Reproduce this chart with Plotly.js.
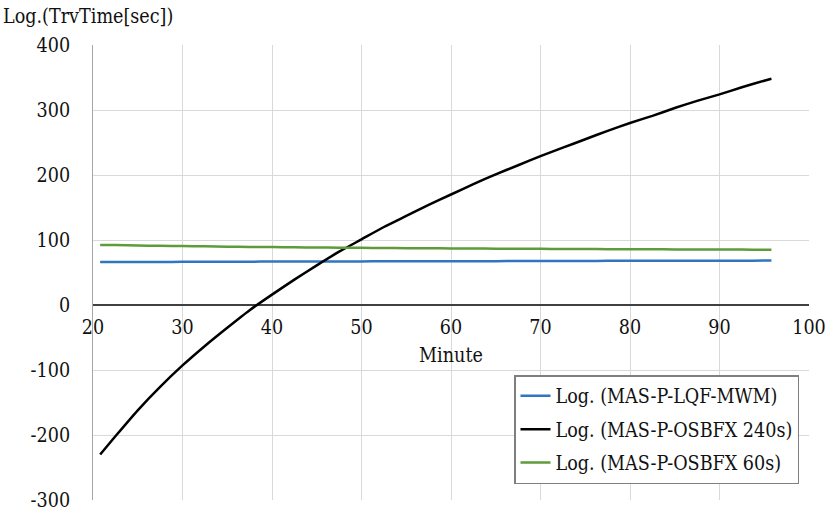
<!DOCTYPE html>
<html>
<head>
<meta charset="utf-8">
<script src="https://cdn.plot.ly/plotly-3.0.1.min.js"></script>
<style>
html,body{margin:0;padding:0;background:#fff;}
#chart{width:827px;height:514px;}
</style>
</head>
<body>
<div id="chart"></div>
<script>
const minutes = [20.8, 22.5, 25, 27.5, 30, 32.5, 35, 37.5, 40, 42.5, 45, 47.5, 50, 52.5, 55, 57.5,
                 60, 62.5, 65, 67.5, 70, 72.5, 75, 77.5, 80, 82.5, 85, 87.5, 90, 92.5, 95, 95.8];
// Log. (MAS-P-LQF-MWM)
const lqfMwm = [66.0, 66.1, 66.2, 66.3, 66.4, 66.5, 66.6, 66.7, 66.8, 66.9, 67.0, 67.0, 67.1, 67.2, 67.3, 67.3,
                67.4, 67.5, 67.5, 67.6, 67.7, 67.7, 67.8, 67.9, 67.9, 68.0, 68.0, 68.1, 68.2, 68.2, 68.3, 68.3];
// Log. (MAS-P-OSBFX 240s)
const osbfx240 = [-230, -202, -162, -126, -93, -63, -35, -8, 16, 39, 61, 82, 101, 120, 137, 154,
                  170, 186, 201, 215, 229, 242, 255, 268, 280, 291, 303, 314, 324, 335, 345, 348];
// Log. (MAS-P-OSBFX 60s)
const osbfx60 = [92.5, 92.2, 91.6, 91.1, 90.6, 90.2, 89.8, 89.4, 89.1, 88.8, 88.5, 88.2, 88.0, 87.7, 87.5, 87.3,
                 87.1, 86.9, 86.7, 86.6, 86.4, 86.2, 86.1, 85.9, 85.8, 85.7, 85.5, 85.4, 85.3, 85.2, 85.1, 85.0];

const seriesNames = ['Log. (MAS-P-LQF-MWM)', 'Log. (MAS-P-OSBFX 240s)', 'Log. (MAS-P-OSBFX 60s)'];
const xTicks = [20, 30, 40, 50, 60, 70, 80, 90, 100];
const yTicks = [-300, -200, -100, 0, 100, 200, 300, 400];
const xRange = [20, 100];
const yRange = [-300, 400];

const FONT = '"DejaVu Serif Condensed", "DejaVu Serif", "Liberation Serif", serif';
// fit the font size so the longest legend label is as wide as in the reference (~237px)
function fitSize() {
  const c = document.createElement('canvas').getContext('2d');
  c.font = '100px ' + FONT;
  const w = c.measureText(seriesNames[1]).width;
  const s = 100 * 237 / w;
  return Math.max(15, Math.min(20, s));
}
const SIZE = fitSize();
const F = (c) => ({family: FONT, size: SIZE, color: c || '#111'});
const mk = (y, name, color, g) => ({
  x: minutes, y: y, name: name, type: 'scatter', mode: 'lines',
  line: {color: color, width: 2.5, shape: 'spline', smoothing: 0.6},
  legendgroup: g, hoverinfo: 'skip'
});
const data = [
  mk(lqfMwm, seriesNames[0], '#2f75c0', 'a'),
  mk(osbfx240, seriesNames[1], '#000000', 'b'),
  mk(osbfx60, seriesNames[2], '#5f9b3a', 'c')
];

const layout = {
  width: 827, height: 514,
  margin: {l: 93, r: 18, t: 45, b: 14},
  paper_bgcolor: '#ffffff', plot_bgcolor: '#ffffff',
  font: F('#111'),
  showlegend: true,
  title: {text: 'Log.(TrvTime[sec])', x: 3 / 827, xref: 'container', xanchor: 'left',
          y: 1 - 16 / 514, yref: 'container', yanchor: 'middle', font: F()},
  xaxis: {
    range: xRange, tickvals: xTicks, ticktext: xTicks.map(String),
    anchor: 'free', position: (0 - yRange[0]) / (yRange[1] - yRange[0]),
    showline: false, zeroline: false,
    showgrid: true, gridcolor: '#d9d9d9', gridwidth: 1,
    ticks: '', ticklabelstandoff: 8, tickfont: F(),
    title: {text: 'Minute', standoff: 10, font: F()},
    fixedrange: true
  },
  yaxis: {
    range: yRange, tickvals: yTicks, ticktext: yTicks.map(String),
    showline: true, linecolor: '#a6a6a6', linewidth: 1,
    zeroline: true, zerolinecolor: '#404040', zerolinewidth: 1.5,
    showgrid: true, gridcolor: '#d9d9d9', gridwidth: 1,
    ticks: '', ticklabelstandoff: 18, tickfont: F(),
    fixedrange: true
  },
  legend: {
    x: (799 - 93) / 716, xanchor: 'right', xref: 'paper',
    y: (500 - 484) / 455, yanchor: 'bottom', yref: 'paper',
    bgcolor: '#ffffff', bordercolor: '#7f7f7f', borderwidth: 1.5,
    font: F(),
    traceorder: 'grouped', tracegroupgap: 5, itemwidth: 30
  }
};
Plotly.newPlot('chart', data, layout, {displayModeBar: false, staticPlot: true});
</script>
</body>
</html>
